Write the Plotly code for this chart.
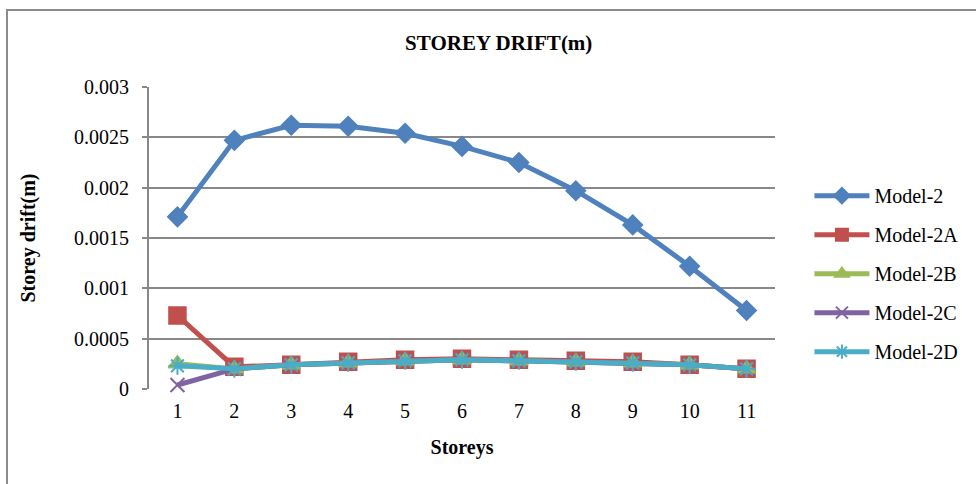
import plotly.graph_objects as go

# Storey numbers along the horizontal axis
storeys = ["1", "2", "3", "4", "5", "6", "7", "8", "9", "10", "11"]

# Storey drift (m) for each model
model_2 = [0.00171, 0.00247, 0.00262, 0.00261, 0.00254, 0.00241, 0.00225, 0.00197, 0.00163, 0.00122, 0.00078]
model_2a = [0.00073, 0.00022, 0.00024, 0.00027, 0.00029, 0.00030, 0.00029, 0.00028, 0.00027, 0.00024, 0.00020]
model_2b = [0.00025, 0.00020, 0.00024, 0.00026, 0.00028, 0.00029, 0.00028, 0.00027, 0.00026, 0.00024, 0.00020]
model_2c = [0.00004, 0.00020, 0.00024, 0.00026, 0.00028, 0.00029, 0.00028, 0.00027, 0.00026, 0.00024, 0.00020]
model_2d = [0.00023, 0.00020, 0.00024, 0.00026, 0.00028, 0.00029, 0.00028, 0.00027, 0.00026, 0.00024, 0.00020]

y_tick_values = [0, 0.0005, 0.001, 0.0015, 0.002, 0.0025, 0.003]
y_tick_labels = ["0", "0.0005", "0.001", "0.0015", "0.002", "0.0025", "0.003"]

series = [
    ("Model-2", model_2, "#4F81BD", dict(symbol="diamond", size=15)),
    ("Model-2A", model_2a, "#C0504D", dict(symbol="square", size=17)),
    ("Model-2B", model_2b, "#9BBB59", dict(symbol="triangle-up", size=16)),
    ("Model-2C", model_2c, "#8064A2", dict(symbol="x-thin", size=14)),
    ("Model-2D", model_2d, "#4BACC6", dict(symbol="asterisk", size=15)),
]

FONT = "Liberation Serif, Times New Roman, serif"

fig = go.Figure()
for name, values, color, mk in series:
    thin = mk["symbol"] in ("x-thin", "asterisk")
    fig.add_trace(go.Scatter(
        x=storeys, y=values, name=name, mode="lines+markers",
        legendgroup=name,
        line=dict(color=color, width=5),
        marker=dict(symbol=mk["symbol"], size=mk["size"], color=color,
                    line=dict(color=color, width=2 if thin else 1.5)),
        cliponaxis=False,
    ))

grid = "#888888"
fig.update_layout(
    width=976, height=484,
    margin=dict(l=149, r=201, t=87, b=95),
    paper_bgcolor="white", plot_bgcolor="white",
    font=dict(family=FONT, size=20, color="black"),
    title=dict(text="<b>STOREY DRIFT(m)</b>", x=0.511, xanchor="center",
               y=0.911, yanchor="middle", font=dict(size=21)),
    xaxis=dict(type="category", range=[-0.5, len(storeys) - 0.5],
               showgrid=False, zeroline=False,
               showline=False, ticks="", ticklabelstandoff=8,
               title=dict(text="<b>Storeys</b>", standoff=18, font=dict(size=20))),
    yaxis=dict(range=[0, 0.003], tickvals=y_tick_values, ticktext=y_tick_labels,
               showgrid=True, gridcolor=grid, gridwidth=2,
               zeroline=False, showline=True, linecolor=grid, linewidth=2,
               ticks="outside", ticklen=5, tickcolor=grid, tickwidth=2,
               ticklabelstandoff=9,
               title=dict(text="<b>Storey drift(m)</b>", standoff=33, font=dict(size=20))),
    legend=dict(x=1.055, xanchor="left", y=0.382, yanchor="middle",
                font=dict(size=20), itemwidth=55, tracegroupgap=10,
                itemsizing="constant",
                bgcolor="rgba(0,0,0,0)"),
    showlegend=True,
)

# Outer chart frame
fig.add_shape(type="rect", xref="paper", yref="paper",
              x0=(7 - 149) / 626, x1=1.6, y0=-0.6, y1=1 + (87 - 10) / 302,
              line=dict(color="#8C8C8C", width=2), fillcolor="rgba(0,0,0,0)", layer="below")

fig.write_html("out.html")
